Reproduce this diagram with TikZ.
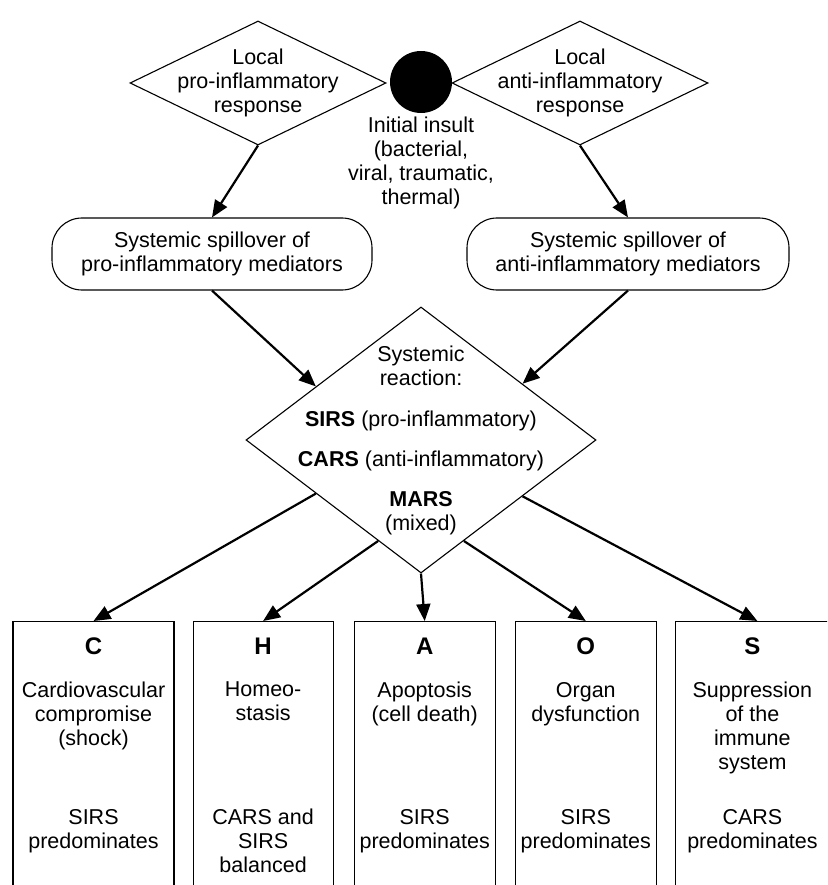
\documentclass[tikz,border=0pt]{standalone}
\usepackage{fontspec}
\setmainfont{Liberation Sans}
\usetikzlibrary{arrows.meta, positioning, calc, shapes.geometric}

\begin{document}
\begin{tikzpicture}[
    x=1pt, y=-1pt,
    every node/.style={font=\fontsize{21.5}{24}\selectfont},
    diam/.style={diamond, draw=black, line width=1.1pt, inner sep=0pt},
    diam_text/.style={align=center, inner sep=0pt},
    spill/.style={rectangle, rounded corners=30pt, draw=black, line width=1.1pt, minimum width=320, minimum height=72, align=center},
    outcome/.style={rectangle, draw=black, line width=1.1pt, minimum height=290, anchor=north},
    letter/.style={font=\fontsize{24}{28}\selectfont\bfseries, anchor=base},
    desc/.style={align=center, anchor=north, inner sep=0pt},
    arrow/.style={-{Triangle[length=17pt, width=14pt]}, line width=2.2pt}
]
    \useasboundingbox (0,0) rectangle (827,885);
    \clip (0,0) rectangle (827,885);

    % ========== TOP: initial insult and local responses ==========
    \node[diam, minimum width=256, minimum height=124] (lpro) at (258,83) {};
    \node[diam_text] (lpro_text) at (lpro) {Local\\pro-inflammatory\\response};

    \node[circle, fill=black, minimum size=62, inner sep=0pt] (insult) at (421,82) {};
    \node[align=center, inner sep=0pt, below=4pt of insult] (insult_text) {Initial insult\\(bacterial,\\viral, traumatic,\\thermal)};

    \node[diam, minimum width=256, minimum height=124] (rpro) at (580,83) {};
    \node[diam_text] (rpro_text) at (rpro) {Local\\anti-inflammatory\\response};

    % ========== Systemic spillover ==========
    \node[spill] (lspill) at (212,254) {Systemic spillover of\\pro-inflammatory mediators};
    \node[spill, minimum width=322] (rspill) at (628,254) {Systemic spillover of\\anti-inflammatory mediators};

    \draw[arrow] (lpro.south) -- (lspill.north);
    \draw[arrow] (rpro.south) -- (rspill.north);

    % ========== Systemic reaction ==========
    \node[diam, minimum width=350, minimum height=266] (sys) at (421,440) {};
    \node[diam_text] (sys_text) at (sys) {Systemic\\reaction:\\[17pt]
        \textbf{SIRS} (pro-inflammatory)\\[16pt]
        \textbf{CARS} (anti-inflammatory)\\[16pt]
        \textbf{MARS}\\(mixed)};

    \draw[arrow] (lspill.south) -- (sys.153);
    \draw[arrow] (rspill.south) -- (sys.29);

    % ========== BOTTOM: C H A O S ==========
    \node[outcome, minimum width=161] (cbox) at (93.5,621) {};
    \node[outcome, minimum width=140, right=18pt of cbox] (hbox) {};
    \node[outcome, minimum width=141, right=20pt of hbox] (abox) {};
    \node[outcome, minimum width=141, right=19pt of abox] (obox) {};
    \node[outcome, minimum width=164, right=18pt of obox] (sbox) {};

    \draw[arrow] (sys.207) -- (cbox.north);
    \draw[arrow] (sys.247) -- (hbox.north);
    \draw[arrow] (sys.south) -- (abox.north);
    \draw[arrow] (sys.293) -- (obox.north);
    \draw[arrow] (sys.331) -- (sbox.north);

    % C
    \node[letter] (c_letter) at ($(cbox.north)+(0,33)$) {C};
    \node[desc] (c_desc) at ($(cbox.north)+(0,61)$) {Cardiovascular\\compromise\\(shock)};
    \node[desc] (c_res) at ($(cbox.north)+(0,188)$) {SIRS\\predominates};

    % H
    \node[letter] (h_letter) at ($(hbox.north)+(0,33)$) {H};
    \node[desc] (h_desc) at ($(hbox.north)+(0,61)$) {Homeo-\\stasis};
    \node[desc] (h_res) at ($(hbox.north)+(0,188)$) {CARS and\\SIRS\\balanced};

    % A
    \node[letter] (a_letter) at ($(abox.north)+(0,33)$) {A};
    \node[desc] (a_desc) at ($(abox.north)+(0,61)$) {Apoptosis\\(cell death)};
    \node[desc] (a_res) at ($(abox.north)+(0,188)$) {SIRS\\predominates};

    % O
    \node[letter] (o_letter) at ($(obox.north)+(0,33)$) {O};
    \node[desc] (o_desc) at ($(obox.north)+(0,61)$) {Organ\\dysfunction};
    \node[desc] (o_res) at ($(obox.north)+(0,188)$) {SIRS\\predominates};

    % S
    \node[letter] (s_letter) at ($(sbox.north)+(-5,33)$) {S};
    \node[desc] (s_desc) at ($(sbox.north)+(-5,61)$) {Suppression\\of the\\immune\\system};
    \node[desc] (s_res) at ($(sbox.north)+(-5,188)$) {CARS\\predominates};

\end{tikzpicture}
\end{document}
